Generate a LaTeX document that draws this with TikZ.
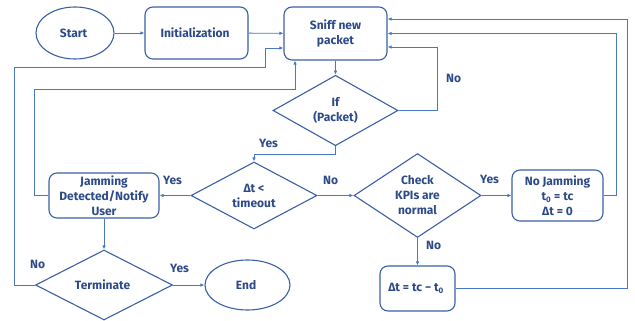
\documentclass[tikz,border=0pt]{standalone}
\usepackage{fontspec}
\setmainfont{Fira Sans}
\usetikzlibrary{shapes.geometric,arrows.meta}
\definecolor{textblue}{HTML}{2C4A88}
\definecolor{edgeblue}{HTML}{3B5FA6}
\definecolor{lineblue}{HTML}{4A76C6}
\begin{document}
\begin{tikzpicture}[
		x = 1pt, y = -1pt,
		every node/.style = { text = textblue, font = \bfseries\fontsize{12}{15}\selectfont, align = center },
		process/.style = { draw = edgeblue, line width = 1.1pt, rounded corners = 8pt, inner sep = 0pt },
		terminal/.style = { draw = edgeblue, line width = 1.1pt, ellipse, inner sep = 0pt },
		decision/.style = { draw = edgeblue, line width = 1.1pt, diamond, inner sep = 0pt },
		flow/.style = { draw = lineblue, line width = 0.9pt, -{Latex[length = 4pt, width = 3.5pt]} },
		label text/.style = { inner sep = 0pt }
	]
	\useasboundingbox (0,0) rectangle (635,321);
	% top row
	\node [terminal, minimum width = 78pt, minimum height = 52pt] (start) at (75,33) { Start };
	\node [process, minimum width = 103pt, minimum height = 52pt] (init) at (196.5,33) { Initialization };
	\node [process, minimum width = 103pt, minimum height = 53pt] (sniff) at (335.5,33.5) { Sniff new\\ packet };
	\node [decision, minimum width = 125pt, minimum height = 67pt] (ifpkt) at (335.5,110.5) { If\\ (Packet) };
	% middle row
	\node [process, minimum width = 110pt, minimum height = 45pt] (jam) at (104,195.5) { Jamming\\ Detected/Notify\\ User };
	\node [decision, minimum width = 126pt, minimum height = 67pt] (dt) at (254,195.5) { Δt <\\ timeout };
	\node [decision, minimum width = 127pt, minimum height = 68pt] (check) at (417.5,195.5) { Check\\ KPIs are\\ normal };
	\node [process, minimum width = 91pt, minimum height = 51pt] (nojam) at (557.5,195.5) { No Jamming\\ t\textsubscript{0} = tc\\ Δt = 0 };
	% bottom row
	\node [decision, minimum width = 137pt, minimum height = 70pt] (term) at (104,285) { Terminate };
	\node [terminal, minimum width = 85pt, minimum height = 50pt] (fin) at (247.5,285) { End };
	\node [process, minimum width = 75pt, minimum height = 45pt] (upd) at (417.5,288.5) { Δt = tc − t\textsubscript{0} };

	\draw [flow] (start) -- (init);
	\draw [flow] (init) -- (sniff);
	\draw [flow] (sniff) -- (ifpkt);
	\draw [flow] (ifpkt.east) -- ++(39,0) |- ([yshift = -13.5pt]sniff.east);
	\draw [flow] (ifpkt.south) -- ++(0,8) -| (dt.north);
	\draw [flow] (dt.west) -- (jam.east);
	\draw [flow] (dt.east) -- (check.west);
	\draw [flow] (check.east) -- (nojam.west);
	\draw [flow] (check.south) -- (upd.north);
	\draw [flow] (nojam.east) -- ++(13,0) |- (sniff.east);
	\draw [flow] (upd.east) -- ++(172,0) |- ([yshift = 14.5pt]sniff.east);
	\draw [flow] (jam.south) -- (term.north);
	\draw [flow] (term.east) -- (fin.west);
	\draw [flow] (term.west) -| (14,67) -| (265,48) -- ([yshift = -14.5pt]sniff.west);
	\draw [flow] (jam.west) -| (34,89) -| ([xshift = -40.5pt]sniff.south);

	% branch labels
	\node [label text] (lno1) at (455,78) { No };
	\node [label text] (lyes1) at (270,143) { Yes };
	\node [label text] (lyes2) at (174,180) { Yes };
	\node [label text] (lno2) at (332,180) { No };
	\node [label text] (lyes3) at (491,179) { Yes };
	\node [label text] (lno3) at (435,245) { No };
	\node [label text] (lno4) at (39,264) { No };
	\node [label text] (lyes4) at (181,268) { Yes };
\end{tikzpicture}
\end{document}
